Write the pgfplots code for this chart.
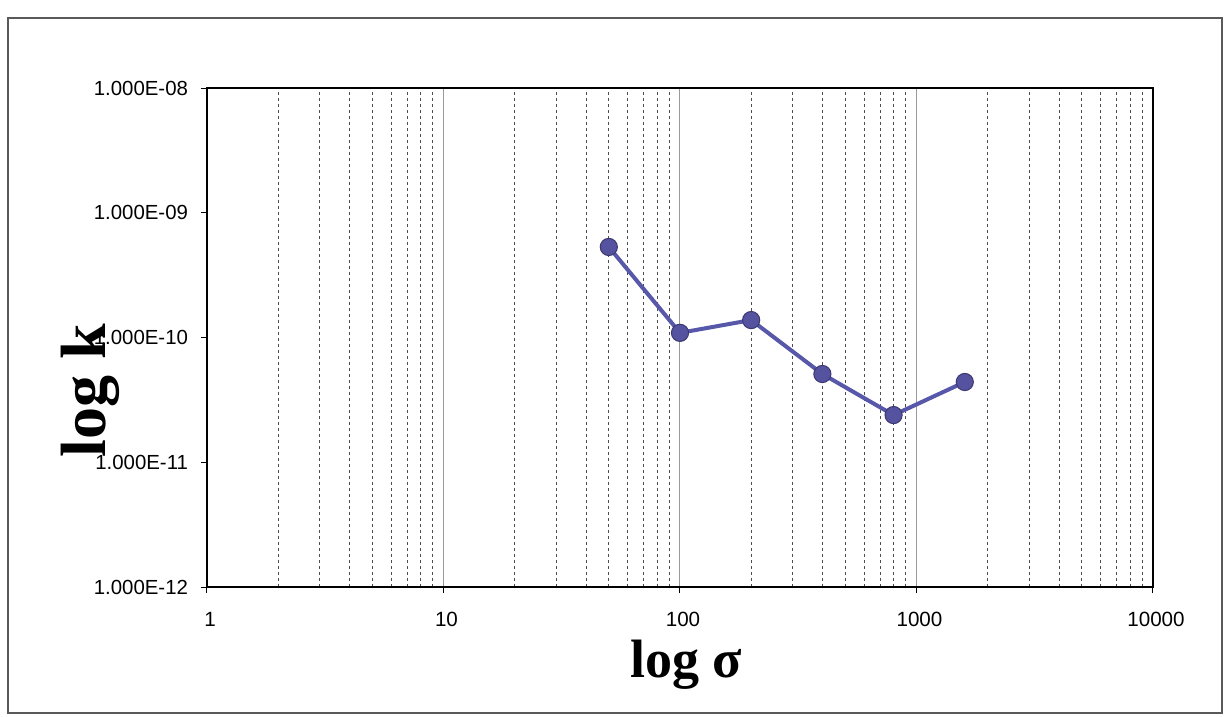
\documentclass[border=0pt]{standalone}
\usepackage{pgfplots}
\pgfplotsset{compat=1.18}
\usepackage{fontspec}
\setmainfont{Liberation Sans}
\newfontfamily\serifb{Liberation Serif}
\definecolor{linec}{RGB}{88,88,170}
\definecolor{markc}{RGB}{85,82,160}
\begin{document}
\begin{tikzpicture}
\path[use as bounding box] (0,0) rectangle (614pt,358.5pt);
\draw[gray!70!black, line width=0.6pt] (4pt,2pt) rectangle (611pt,349.5pt);
\begin{axis}[
  at={(103.5pt,65pt)}, anchor=south west,
  scale only axis, width=473pt, height=249.5pt,
  xmode=log, ymode=log,
  xmin=1, xmax=10000, ymin=1e-12, ymax=1e-8,
  xtick={1,10,100,1000,10000},
  xticklabels={1,10,100,1000,10000},
  ytick={1e-12,1e-11,1e-10,1e-9,1e-8},
  yticklabels={1.000E-12,1.000E-11,1.000E-10,1.000E-09,1.000E-08},
  minor xtick={2,3,4,5,6,7,8,9,20,30,40,50,60,70,80,90,200,300,400,500,600,700,800,900,2000,3000,4000,5000,6000,7000,8000,9000},
  yminorticks=false,
  xmajorgrids=true, xminorgrids=true,
  major grid style={gray!80, line width=0.5pt, solid},
  minor grid style={black!70, line width=0.35pt, dash pattern=on 1.5pt off 1.5pt},
  tick pos=left,
  tick align=outside, major tick length=3pt, minor tick length=0pt,
  tick style={black, line width=0.5pt},
  axis line style={black, line width=0.8pt},
  xticklabel style={font=\fontsize{10.3}{12}\selectfont, yshift=-6pt, xshift=1.5pt},
  yticklabel style={font=\fontsize{10.2}{12}\selectfont, xshift=-3pt},
  xlabel={}, ylabel={},
  clip=false,
]
\addplot[color=linec, line width=2pt, mark=*, mark size=4.3pt,
  mark options={fill=markc, draw=markc!70!black, line width=0.5pt}]
  coordinates {
  (50,5.32e-10) (100,1.09e-10) (200,1.38e-10) (400,5.1e-11) (800,2.39e-11) (1600,4.4e-11)
  };
\end{axis}
\node[font=\serifb\bfseries\fontsize{32}{36}\selectfont, rotate=90] at (45pt,163pt) {log k};
\node[font=\serifb\bfseries\fontsize{27}{30}\selectfont] at (343pt,26pt) {log σ};
\end{tikzpicture}
\end{document}
